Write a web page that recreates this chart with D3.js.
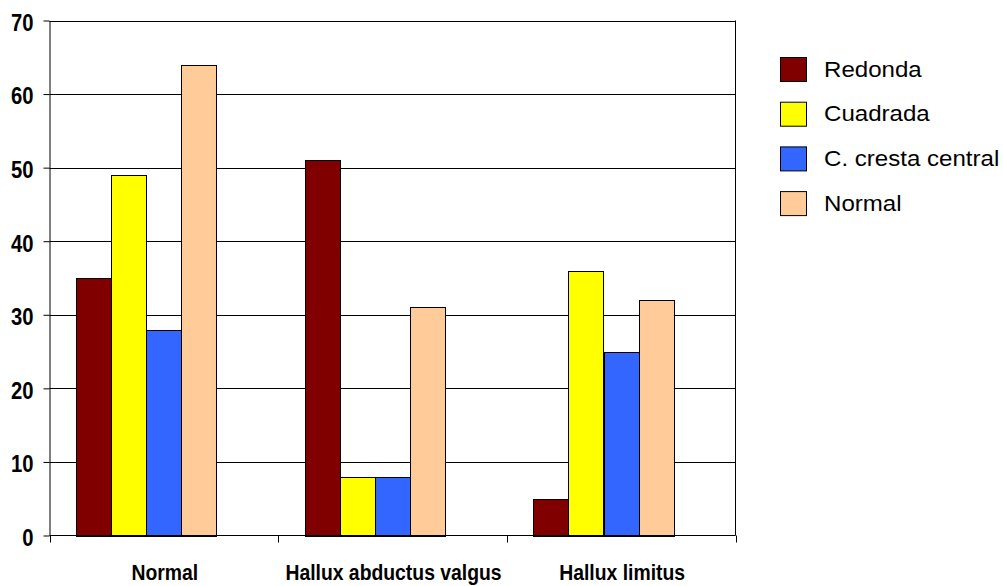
<!DOCTYPE html>
<html>
<head>
<meta charset="utf-8">
<script src="https://cdn.jsdelivr.net/npm/d3@7"></script>
<style>
  html, body { margin: 0; padding: 0; background: #fff; }
  svg { display: block; font-family: Arial, "Liberation Sans", sans-serif; }
</style>
</head>
<body>
<svg id="chart" width="1003" height="586"></svg>
<script>
// Foot type by arch shape, grouped by condition
const categories = ["Normal", "Hallux abductus valgus", "Hallux limitus"];
const seriesNames = ["Redonda", "Cuadrada", "C. cresta central", "Normal"];
const seriesColors = ["#800000", "#FFFF00", "#3366FF", "#FFCC99"];
const redonda = [35, 51, 5];
const cuadrada = [49, 8, 36];
const crestaCentral = [28, 8, 25];
const normal = [64, 31, 32];
const yTicks = [0, 10, 20, 30, 40, 50, 60, 70];

const seriesValues = [redonda, cuadrada, crestaCentral, normal];

const svg = d3.select("#chart");
const plot = { left: 49.5, right: 735.5, top: 20.5, bottom: 535.5 };

const x0 = d3.scaleBand().domain(categories).range([plot.left, plot.right]).padding(0);
// five slots per category (last one left empty) with outer gap of 0.75 slot
const x1 = d3.scaleBand()
  .domain(d3.range(seriesNames.length + 1))
  .range([0, x0.bandwidth()])
  .paddingInner(0)
  .paddingOuter(0.75);
const y = d3.scaleLinear().domain([0, 70]).range([plot.bottom, plot.top]);

// horizontal gridlines
svg.append("g")
  .selectAll("line")
  .data(yTicks.filter(d => d > 0))
  .join("line")
  .attr("x1", plot.left).attr("x2", plot.right)
  .attr("y1", d => Math.round(y(d)) + 0.5).attr("y2", d => Math.round(y(d)) + 0.5)
  .attr("stroke", "#000").attr("stroke-width", 1);

// right border of plot area
svg.append("line")
  .attr("x1", plot.right).attr("x2", plot.right)
  .attr("y1", plot.top).attr("y2", plot.bottom)
  .attr("stroke", "#000");

// bars
const rows = [];
categories.forEach((c, ci) => {
  seriesNames.forEach((s, si) => {
    rows.push({ cat: c, si: si, value: seriesValues[si][ci] });
  });
});
svg.append("g")
  .selectAll("rect")
  .data(rows)
  .join("rect")
  .attr("x", d => Math.round(x0(d.cat) + x1(d.si)) + 0.5)
  .attr("y", d => Math.round(y(d.value)) + 0.5)
  .attr("width", d => Math.round(x1.bandwidth()))
  .attr("height", d => Math.round(y(0)) - Math.round(y(d.value)))
  .attr("fill", d => seriesColors[d.si])
  .attr("stroke", "#000").attr("stroke-width", 1);

// y axis
const yAxis = svg.append("g")
  .attr("transform", `translate(${plot.left},0)`)
  .call(d3.axisLeft(y).tickValues(yTicks).tickSize(6).tickSizeOuter(0).tickPadding(10));
yAxis.select(".domain").attr("stroke", "#000");
yAxis.selectAll(".tick line").attr("stroke", "#000");
yAxis.selectAll(".tick text")
  .attr("font-size", 23).attr("font-weight", "bold").attr("fill", "#000")
  .attr("font-family", "Arial, 'Liberation Sans', sans-serif")
  .each(function () {
    const t = d3.select(this);
    t.attr("x", 0).attr("dy", "0.36em")
      .attr("transform", "translate(-16,1.5) scale(0.88,1)");
  });

// x axis: ticks at category boundaries
const xAxisG = svg.append("g");
xAxisG.append("line")
  .attr("x1", plot.left).attr("x2", plot.right)
  .attr("y1", plot.bottom).attr("y2", plot.bottom)
  .attr("stroke", "#000");
const boundaries = categories.map(c => x0(c)).concat([x0.range()[1]]);
xAxisG.selectAll("line.tick")
  .data(boundaries)
  .join("line")
  .attr("class", "tick")
  .attr("x1", d => Math.round(d) + 0.5).attr("x2", d => Math.round(d) + 0.5)
  .attr("y1", plot.bottom).attr("y2", plot.bottom + 7)
  .attr("stroke", "#000");
xAxisG.selectAll("text")
  .data(categories)
  .join("text")
  .attr("transform", d => `translate(${x0(d) + x0.bandwidth() / 2 + 1},580) scale(0.88,1)`)
  .attr("text-anchor", "middle")
  .attr("font-size", 22).attr("font-weight", "bold").attr("fill", "#000")
  .text(d => d);

// legend
const legend = svg.append("g").attr("transform", "translate(780,57)");
const items = legend.selectAll("g")
  .data(seriesNames)
  .join("g")
  .attr("transform", (d, i) => `translate(0,${i * 44.7})`);
items.append("rect")
  .attr("x", 0.5).attr("y", 0.5)
  .attr("width", 26).attr("height", 24)
  .attr("fill", (d, i) => seriesColors[i])
  .attr("stroke", "#000").attr("stroke-width", 1);
items.append("text")
  .attr("transform", "translate(44,19.5) scale(1.07,1)")
  .attr("font-size", 22.5).attr("fill", "#000")
  .text(d => d);
</script>
</body>
</html>
